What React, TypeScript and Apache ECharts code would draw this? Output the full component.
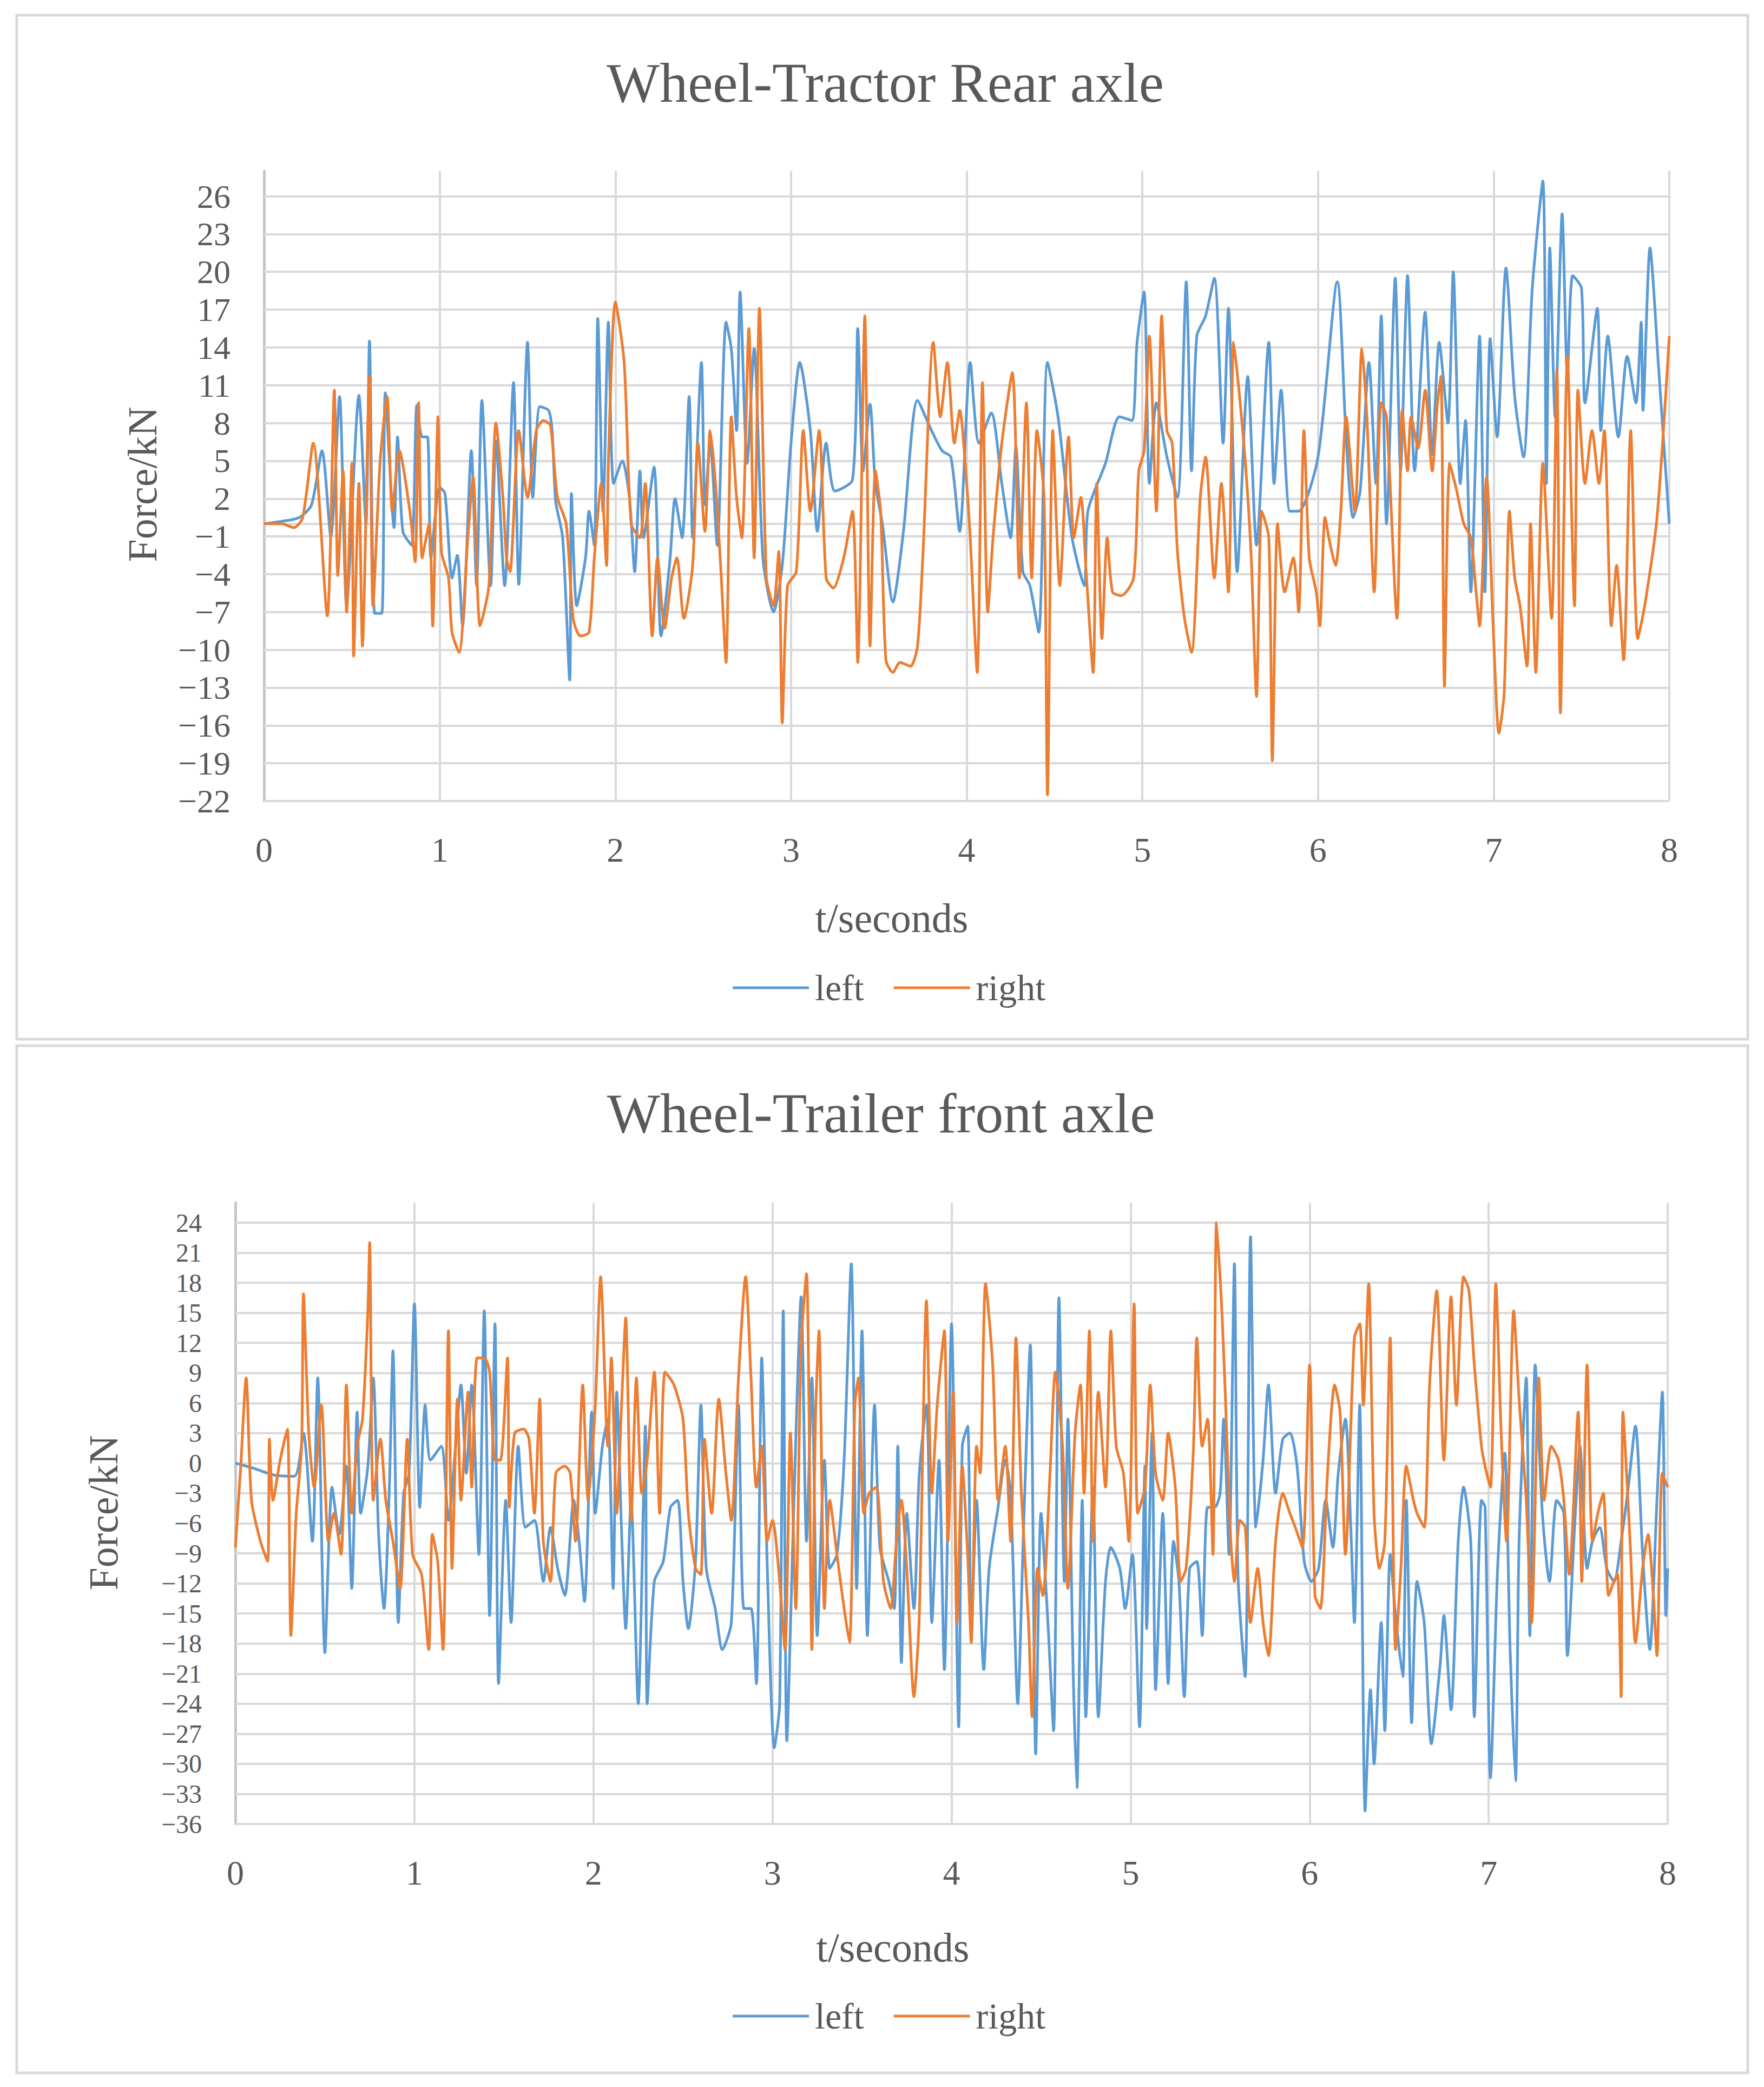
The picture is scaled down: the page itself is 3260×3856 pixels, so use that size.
import { useEffect, useRef } from 'react';
import * as echarts from 'echarts';

// Wheel-tractor rear axle, [t (s), force (kN)]
const topLeft: [number, number][] = [
  [0, 0], [0.1, 0.2], [0.2, 0.5], [0.27, 1.5], [0.33, 5.8], [0.38, -1], [0.43, 10.1], [0.47, -6.5], [0.54, 10.2], [0.58, 0],
  [0.6, 14.5], [0.63, -7.1], [0.67, -7.1], [0.69, 10.4], [0.74, -0.3], [0.76, 6.9], [0.79, -0.6], [0.84, -1.7], [0.87, 9.4], [0.9, 6.9],
  [0.93, 6.9], [0.95, -2.7], [1.0, 2.9], [1.03, 2.4], [1.07, -4.3], [1.1, -2.5], [1.13, -8.1], [1.18, 5.8], [1.21, -4.9], [1.24, 9.8],
  [1.29, -4.9], [1.32, 6.6], [1.37, -4.9], [1.42, 11.2], [1.45, -4.8], [1.5, 14.4], [1.53, 2.1], [1.57, 9.3], [1.62, 9.0], [1.64, 7.4],
  [1.66, 1.8], [1.7, -1.1], [1.74, -12.4], [1.75, 2.4], [1.78, -6.5], [1.83, -2.7], [1.85, 1.0], [1.88, -1.7], [1.9, 16.3], [1.93, 1.0],
  [1.96, 16], [1.99, 3.2], [2.04, 5.0], [2.08, 2.1], [2.11, -3.8], [2.14, 4.2], [2.16, -1.1], [2.22, 4.5], [2.26, -8.9], [2.31, -3],
  [2.34, 2.0], [2.38, -1.1], [2.42, 10.1], [2.44, -1.1], [2.49, 12.8], [2.51, 1.5], [2.54, 6.4], [2.58, -1.7], [2.63, 16], [2.66, 13.9],
  [2.69, 7.4], [2.71, 18.4], [2.75, 4.8], [2.79, 13.9], [2.84, -2.7], [2.9, -7], [2.95, -3.3], [3.0, 6.4], [3.05, 12.8], [3.11, 7.4],
  [3.15, -0.6], [3.2, 6.4], [3.25, 2.6], [3.35, 3.5], [3.38, 15.5], [3.41, 4.2], [3.45, 9.5], [3.48, 3.2], [3.52, 0], [3.58, -6.2],
  [3.64, -0.6], [3.72, 9.8], [3.8, 7.4], [3.86, 5.8], [3.91, 5.3], [3.96, -0.6], [4.02, 12.8], [4.07, 6.4], [4.14, 8.8], [4.2, 3.2],
  [4.25, -1.1], [4.28, 6.1], [4.32, -3.8], [4.36, -4.9], [4.41, -8.6], [4.46, 12.8], [4.52, 8.5], [4.6, -1.1], [4.67, -4.9], [4.69, 1.0],
  [4.79, 4.8], [4.87, 8.5], [4.94, 8.2], [4.97, 14.4], [5.01, 18.4], [5.04, 3.2], [5.08, 9.6], [5.14, 5.3], [5.2, 2.1], [5.25, 19.2],
  [5.28, 4.2], [5.31, 14.9], [5.36, 16.5], [5.41, 19.5], [5.46, 6.4], [5.49, 17.1], [5.54, -3.8], [5.6, 11.7], [5.65, -1.7], [5.72, 14.4],
  [5.75, 3.2], [5.79, 10.6], [5.84, 1.0], [5.89, 1.0], [6.0, 5.3], [6.11, 19.2], [6.16, 6.9], [6.2, 0.5], [6.24, 2.6], [6.29, 12.8],
  [6.33, 3.2], [6.36, 16.5], [6.39, 0], [6.44, 19.5], [6.47, 4.2], [6.51, 19.7], [6.55, 4.2], [6.61, 16.8], [6.65, 5.5], [6.69, 14.4],
  [6.74, 8], [6.77, 20], [6.81, 3.2], [6.84, 8.2], [6.87, -5.4], [6.92, 14.9], [6.95, -5.4], [6.98, 14.7], [7.02, 6.9], [7.07, 20.3],
  [7.12, 10.1], [7.17, 5.3], [7.22, 18.7], [7.28, 27.2], [7.3, 3.2], [7.32, 21.9], [7.35, 8.5], [7.39, 24.6], [7.42, 11.7], [7.45, 19.7],
  [7.5, 18.7], [7.52, 9.6], [7.59, 17.1], [7.61, 7.4], [7.65, 14.9], [7.71, 6.9], [7.76, 13.3], [7.81, 9.6], [7.84, 16], [7.85, 9.0],
  [7.89, 21.9], [7.94, 12.2], [8.0, 0],
];

const topRight: [number, number][] = [
  [0, 0], [0.1, 0], [0.17, -0.3], [0.22, 0.5], [0.28, 6.4], [0.36, -7.3], [0.4, 10.6], [0.42, -4.1], [0.45, 4.2], [0.47, -7],
  [0.5, 4.8], [0.51, -10.5], [0.54, 3.2], [0.56, -9.7], [0.6, 11.7], [0.62, -6.5], [0.66, 4.8], [0.7, 10.1], [0.73, 1], [0.77, 5.8],
  [0.83, 1], [0.86, -3], [0.88, 9.6], [0.9, -2.7], [0.94, 0], [0.96, -8.1], [0.98, 3.7], [0.99, 8.5], [1.01, -2.2], [1.05, -4.3],
  [1.07, -8.6], [1.11, -10.2], [1.16, -1.1], [1.19, 3.7], [1.23, -8.1], [1.28, -4.9], [1.32, 8], [1.36, 2.1], [1.38, -2.7], [1.4, -3.8],
  [1.45, 7.4], [1.5, 2.1], [1.55, 7.4], [1.59, 8.2], [1.63, 7.8], [1.67, 2.1], [1.72, 0], [1.76, -7.5], [1.8, -8.9], [1.85, -8.6],
  [1.88, -2.7], [1.92, 3.2], [1.95, -3.3], [1.96, 4.8], [2.0, 17.6], [2.05, 12.8], [2.09, 0], [2.14, -1.1], [2.17, 3.2], [2.21, -8.9],
  [2.24, -2.7], [2.28, -8.3], [2.32, -4.3], [2.35, -2.7], [2.39, -7.5], [2.44, -3.3], [2.47, 6.4], [2.51, -0.6], [2.54, 7.4], [2.57, 3.2],
  [2.6, -3.5], [2.63, -11], [2.66, 8.5], [2.69, 2.1], [2.72, -1.1], [2.76, 15.5], [2.79, -2.7], [2.82, 17.1], [2.86, -4.3], [2.9, -6.5],
  [2.93, -2.2], [2.95, -15.8], [2.98, -4.9], [3.03, -3.8], [3.07, 7.4], [3.11, 1], [3.16, 7.4], [3.2, -4.3], [3.24, -5.1], [3.3, -2.7],
  [3.35, 1], [3.38, -11], [3.42, 16.5], [3.45, -9.7], [3.48, 4.2], [3.51, 1], [3.54, -10.8], [3.58, -11.8], [3.62, -11], [3.68, -11.3],
  [3.72, -9.7], [3.75, -2.7], [3.81, 14.4], [3.85, 8.5], [3.89, 12.8], [3.93, 6.4], [3.96, 9.0], [4.0, 3.2], [4.02, -1.1], [4.06, -11.8],
  [4.09, 11.2], [4.12, -7], [4.15, -1.1], [4.2, 6.4], [4.26, 12], [4.3, -4.3], [4.34, 9.6], [4.37, -4.3], [4.4, 7.4], [4.44, 2.1],
  [4.46, -21.5], [4.49, 7.4], [4.53, -4.9], [4.58, 6.9], [4.61, -1.1], [4.65, 2.1], [4.68, -3.8], [4.72, -11.8], [4.74, 3.2], [4.77, -9.1],
  [4.8, -1.1], [4.83, -5.4], [4.88, -5.7], [4.95, -4.3], [4.98, 4.2], [5.01, 5.8], [5.04, 14.9], [5.08, 1], [5.11, 16.5], [5.14, 7.4],
  [5.17, 6.4], [5.2, -2.2], [5.24, -7.5], [5.28, -10.2], [5.33, 2.1], [5.36, 5.3], [5.41, -4.3], [5.45, 3.2], [5.49, -5.4], [5.52, 14.4],
  [5.55, 10.6], [5.59, 4.2], [5.62, -2.7], [5.65, -13.7], [5.68, 1], [5.72, -1.1], [5.74, -18.8], [5.77, 0], [5.81, -5.4], [5.86, -2.7],
  [5.89, -7], [5.92, 7.4], [5.95, -2.7], [5.99, -5.4], [6.01, -8.1], [6.04, 0.5], [6.07, -1.7], [6.1, -3.3], [6.13, 1], [6.16, 8.5],
  [6.21, 1], [6.25, 13.9], [6.28, 8], [6.32, -5.4], [6.36, 9.6], [6.39, 8.5], [6.45, -7.5], [6.48, 9.0], [6.51, 4.2], [6.53, 8.5],
  [6.57, 6], [6.61, 10.6], [6.65, 4.2], [6.68, 9.6], [6.7, 11.7], [6.72, -12.9], [6.75, 4.8], [6.79, 2.6], [6.83, 0], [6.87, -1.1],
  [6.9, -5.4], [6.92, -8.1], [6.96, 3.7], [7.0, -9.1], [7.03, -16.6], [7.06, -13.4], [7.09, 1], [7.12, -4.3], [7.15, -6.5], [7.19, -11.3],
  [7.21, 0], [7.24, -11.8], [7.28, 4.8], [7.33, -7.5], [7.36, 12.2], [7.38, -15], [7.42, 13.3], [7.46, -6.5], [7.48, 10.6], [7.52, 3.2],
  [7.56, 7.4], [7.6, 3.2], [7.63, 7.4], [7.67, -8.1], [7.7, -3.3], [7.74, -10.8], [7.78, 7.4], [7.82, -9.1], [7.86, -6.5], [7.93, 0.5],
  [8.0, 14.9],
];

// Wheel-trailer front axle
const botLeft: [number, number][] = [
  [0, 0], [0.1, -0.5], [0.22, -1.2], [0.33, -1.3], [0.38, 3], [0.43, -7.8], [0.46, 8.5], [0.5, -18.9], [0.54, -2.4], [0.58, -7.1],
  [0.62, -0.3], [0.65, -12.5], [0.68, 5.1], [0.7, -5], [0.74, -0.3], [0.77, 8.5], [0.8, -7.1], [0.83, -14.5], [0.86, -2.4], [0.88, 11.2],
  [0.91, -15.9], [0.94, -3], [0.97, -1], [1.0, 15.9], [1.03, -4.4], [1.06, 5.8], [1.09, 0.3], [1.15, 1.7], [1.19, -5.7], [1.23, 1.7],
  [1.26, 7.8], [1.29, -1], [1.32, 7.8], [1.36, -9.1], [1.39, 15.2], [1.42, -15.2], [1.45, 13.9], [1.47, -22], [1.51, -3.7], [1.54, -15.9],
  [1.58, 1.7], [1.62, -6.4], [1.67, -5.7], [1.72, -11.8], [1.76, -6.4], [1.8, -10.5], [1.84, -13.2], [1.89, -3.7], [1.92, -7.8], [1.95, -13.8],
  [1.99, 5.1], [2.01, -5], [2.05, 1.7], [2.08, 4.4], [2.11, -12.5], [2.13, 7.1], [2.16, -8.4], [2.18, -16.5], [2.21, -3.7], [2.25, -24],
  [2.29, 3.7], [2.3, -24], [2.34, -11.8], [2.39, -9.8], [2.43, -4.4], [2.47, -3.7], [2.5, -11.8], [2.53, -16.5], [2.57, -9.8], [2.6, 5.8],
  [2.63, -10.5], [2.68, -14.5], [2.72, -18.6], [2.77, -15.9], [2.81, 5.8], [2.84, -14.5], [2.88, -14.5], [2.91, -22], [2.94, 10.5], [2.97, -9.8],
  [3.01, -28.4], [3.04, -24], [3.06, 15.2], [3.08, -27.7], [3.12, -3.7], [3.16, 16.6], [3.19, -7.8], [3.22, 8.5], [3.25, -17.2], [3.29, 0.3],
  [3.32, -10.5], [3.36, -9.1], [3.4, 0.3], [3.44, 19.9], [3.47, -12.5], [3.5, 13.2], [3.53, -17.2], [3.57, 5.8], [3.6, -8.4], [3.65, -11.8],
  [3.68, -14.5], [3.7, 1.7], [3.72, -19.9], [3.75, -5], [3.79, -14.5], [3.82, -1], [3.86, 5.8], [3.89, -15.9], [3.93, 0.3], [3.96, -20.6],
  [4.0, 13.9], [4.04, -26.3], [4.06, 1.7], [4.09, 3.7], [4.11, -17.2], [4.14, -3.7], [4.18, -20.6], [4.21, -10.5], [4.26, -4.4], [4.3, 0.3],
  [4.33, -3], [4.37, -24], [4.4, -7.8], [4.44, 11.8], [4.47, -29], [4.5, -5], [4.54, -16.5], [4.57, -26.7], [4.6, 16.5], [4.63, -11.8],
  [4.65, 4.4], [4.68, -21.3], [4.7, -32.4], [4.73, -3.7], [4.75, -25.3], [4.79, -2.4], [4.82, -25.3], [4.86, -11.8], [4.89, -8.4], [4.94, -10.5],
  [4.97, -14.5], [5.01, -9.1], [5.05, -26.3], [5.08, -0.3], [5.09, -16.5], [5.12, 3], [5.14, -22.6], [5.18, -5], [5.21, -22], [5.24, -7.8],
  [5.27, -11.8], [5.3, -23.3], [5.33, -10.5], [5.37, -9.8], [5.4, -17.2], [5.43, -4.4], [5.47, -4.4], [5.5, -3], [5.52, 4.4], [5.55, -9.1],
  [5.58, 19.9], [5.6, -11.1], [5.64, -21.3], [5.67, 22.6], [5.7, -6.4], [5.74, 0.3], [5.77, 7.8], [5.81, -3], [5.85, 2.4], [5.89, 3],
  [5.93, -0.3], [5.97, -9.8], [6.01, -11.8], [6.05, -10.5], [6.09, -3.7], [6.13, -8.4], [6.16, -1], [6.2, 4.4], [6.23, -6.4], [6.25, -15.9],
  [6.28, 5.8], [6.31, -34.7], [6.34, -22.6], [6.36, -30], [6.4, -15.9], [6.42, -26.7], [6.45, -9.1], [6.48, -15.2], [6.52, -21.3], [6.54, -3.7],
  [6.57, -25.9], [6.6, -11.8], [6.64, -15.9], [6.68, -28], [6.73, -19.9], [6.75, -15.2], [6.79, -24.6], [6.83, -7.8], [6.86, -2.4], [6.9, -7.8],
  [6.92, -25.3], [6.96, -3.7], [6.98, -4.4], [7.01, -31.4], [7.05, -10.5], [7.09, 1], [7.12, -18.6], [7.15, -31.7], [7.17, -7.8], [7.21, 8.5],
  [7.23, -17.2], [7.26, 9.8], [7.3, -5], [7.34, -11.8], [7.38, -3.7], [7.42, -5], [7.44, -19.2], [7.48, -6.4], [7.51, 1.7], [7.55, -10.5],
  [7.58, -7.8], [7.62, -6.4], [7.66, -10.5], [7.7, -11.8], [7.74, -7.8], [7.78, -2.4], [7.82, 3.7], [7.86, -9.1], [7.9, -18.6], [7.94, -3.7],
  [7.97, 7.1], [7.99, -15.2], [8.0, -10.5],
];

const botRight: [number, number][] = [
  [0, -8.4], [0.03, -0.3], [0.06, 8.5], [0.09, -3.7], [0.14, -7.8], [0.18, -9.8], [0.19, 2.4], [0.21, -3.7], [0.25, 0.3], [0.29, 3.4],
  [0.31, -17.2], [0.34, -5], [0.37, 1.7], [0.38, 16.9], [0.41, 3], [0.44, -2.4], [0.48, 5.8], [0.52, -7.8], [0.55, -5], [0.59, -9.1],
  [0.62, 7.8], [0.65, -5], [0.68, 1.7], [0.71, 4.4], [0.74, 15.2], [0.75, 22], [0.77, -3.7], [0.81, 2.4], [0.84, -3.7], [0.88, -7.8],
  [0.92, -12.5], [0.96, 2.4], [0.99, -9.1], [1.04, -11.1], [1.08, -18.6], [1.1, -7.1], [1.13, -9.8], [1.16, -18.6], [1.19, 13.2], [1.21, -10.5],
  [1.24, 6.4], [1.26, -3.7], [1.3, 7.1], [1.32, -2.4], [1.35, 10.5], [1.39, 10.5], [1.42, 9.1], [1.45, 0.3], [1.48, 0.3], [1.52, 10.5],
  [1.53, -4.4], [1.56, 3], [1.61, 3.4], [1.64, 2.4], [1.67, -5], [1.7, 6.4], [1.72, -7.8], [1.76, -11.8], [1.79, -1], [1.84, -0.3],
  [1.87, -1], [1.9, -7.8], [1.94, 7.8], [1.97, -3.7], [2.01, 5.8], [2.04, 18.6], [2.08, 1.7], [2.1, 10.5], [2.13, -5], [2.16, 7.1],
  [2.18, 14.5], [2.21, -5.7], [2.24, 8.5], [2.27, -3], [2.3, 0.3], [2.34, 9.1], [2.37, -5], [2.4, 9.1], [2.45, 7.8], [2.5, 4.4],
  [2.53, -5], [2.57, -10.5], [2.6, -11.1], [2.62, 2.4], [2.66, -5], [2.7, 6.4], [2.74, -1], [2.77, -5.7], [2.81, 8.5], [2.85, 18.6],
  [2.88, 8.5], [2.91, -2.4], [2.94, 1.7], [2.97, -7.8], [3.0, -5.7], [3.04, -11.8], [3.07, -18.6], [3.1, 3], [3.13, -14.5], [3.16, 11.8],
  [3.19, 18.9], [3.22, -18.6], [3.24, 4.4], [3.26, 13.2], [3.29, -14.5], [3.32, -3.7], [3.36, -9.1], [3.4, -14.5], [3.43, -17.9], [3.46, 5.8],
  [3.48, 8.5], [3.51, -5], [3.54, -3], [3.58, -2.4], [3.62, -11.8], [3.66, -14.5], [3.69, -8.4], [3.72, -3.7], [3.75, -10.5], [3.79, -23.3],
  [3.82, -15.2], [3.86, 16.2], [3.89, -3], [3.92, 5.8], [3.96, 13.2], [3.98, -7.8], [4.01, 7.1], [4.03, -15.9], [4.06, -0.3], [4.09, -9.1],
  [4.11, -17.9], [4.14, 1.7], [4.16, -1], [4.19, 17.9], [4.23, 9.8], [4.26, -3.7], [4.3, 1.7], [4.33, -7.8], [4.36, 12.5], [4.39, -3],
  [4.43, -15.9], [4.45, -25.3], [4.48, -10.5], [4.51, -13.2], [4.55, -1], [4.58, 9.1], [4.62, 1.7], [4.65, -12.5], [4.69, 3], [4.72, 7.8],
  [4.74, -3], [4.77, 13.2], [4.79, -7.8], [4.82, 7.1], [4.86, -2.4], [4.89, 13.2], [4.92, 1.7], [4.96, -1], [4.99, -7.8], [5.02, 15.9],
  [5.04, -5], [5.08, -2.4], [5.11, 7.8], [5.14, -1], [5.18, -3.7], [5.21, 3], [5.25, -2.4], [5.28, -11.8], [5.31, -10.5], [5.35, 1],
  [5.37, 12.5], [5.4, 1.7], [5.43, 4.4], [5.46, -9.1], [5.48, 24], [5.51, 15.2], [5.53, 6.4], [5.56, -7.8], [5.58, -11.8], [5.61, -5.7],
  [5.64, -6.4], [5.67, -15.9], [5.71, -10.5], [5.74, -15.9], [5.77, -19.2], [5.81, -7.8], [5.85, -3], [5.89, -5], [5.92, -6.4], [5.96, -8.4],
  [6.0, 9.8], [6.03, -13.2], [6.06, -14.5], [6.1, -1], [6.14, 7.8], [6.17, 5.1], [6.2, -9.1], [6.25, 12.5], [6.28, 13.9], [6.3, 5.8],
  [6.33, 17.9], [6.36, -5], [6.39, -10.5], [6.42, -7.8], [6.45, 12.5], [6.48, -18.6], [6.51, -10.5], [6.54, -0.3], [6.58, -3.7], [6.6, -5],
  [6.64, -6.4], [6.67, 7.8], [6.71, 17.2], [6.75, 0.3], [6.79, 16.6], [6.82, 5.8], [6.86, 18.6], [6.89, 17.2], [6.92, 9.8], [6.96, 1.7],
  [6.98, -0.3], [7.01, -2.4], [7.04, 17.9], [7.07, 3], [7.1, -7.8], [7.14, 15.2], [7.17, 6.4], [7.21, -3.7], [7.24, -15.9], [7.28, 8.5],
  [7.31, -3.7], [7.35, 1.7], [7.39, 0.3], [7.42, -3.7], [7.45, -11.1], [7.5, 5.1], [7.52, -11.8], [7.55, 9.8], [7.58, -7.8], [7.61, -5],
  [7.64, -3], [7.67, -13.2], [7.7, -11.8], [7.72, -11.1], [7.74, -23.3], [7.75, 5.1], [7.79, -7.8], [7.82, -17.9], [7.86, -10.5], [7.89, -7.1],
  [7.92, -13.2], [7.94, -19.2], [7.97, -1], [8.0, -2.4],
];

const titles = ['Wheel-Tractor Rear axle', 'Wheel-Trailer front axle'];
const seriesNames = ['left', 'right'];
const yTicksTop = [-22, -19, -16, -13, -10, -7, -4, -1, 2, 5, 8, 11, 14, 17, 20, 23, 26];
const yTicksBottom = [-36, -33, -30, -27, -24, -21, -18, -15, -12, -9, -6, -3, 0, 3, 6, 9, 12, 15, 18, 21, 24];

const BLUE = '#5B9BD5';
const ORANGE = '#ED7D31';
const TEXT = '#595959';
const GRID = '#d9d9d9';
const FONT = '"Liberation Serif", "Times New Roman", serif';

const fmt = (v: number) => (v < 0 ? '\u2212' + Math.abs(v) : String(v));

function gridLines(values: number[]) {
  return {
    silent: true,
    symbol: ['none', 'none'],
    z: 1,
    label: { show: false },
    lineStyle: { color: GRID, width: 4, type: 'solid' },
    emphasis: { disabled: true },
    data: values.map((v) => ({ yAxis: v })),
  };
}

function axisPair(idx: number, min: number, max: number, ticks: number[], ySize: number) {
  const shown = new Set(ticks);
  const x = {
    type: 'value',
    gridIndex: idx,
    min: 0,
    max: 8,
    interval: 1,
    axisLine: { show: false, onZero: false },
    axisTick: { show: false },
    axisLabel: { color: TEXT, fontSize: 64, fontFamily: FONT, margin: 58 },
    splitLine: { show: true, lineStyle: { color: GRID, width: 4 } },
  };
  const y = {
    type: 'value',
    gridIndex: idx,
    min,
    max,
    interval: 1,
    axisLine: { show: true, onZero: false, lineStyle: { color: '#c6c6c6', width: 5 } },
    axisTick: { show: false },
    splitLine: { show: false },
    axisLabel: {
      color: TEXT,
      fontSize: ySize,
      fontFamily: FONT,
      margin: 62,
      formatter: (v: number) => (shown.has(Math.round(v)) ? fmt(Math.round(v)) : ''),
    },
  };
  return { x, y };
}

function lineSeries(name: string, data: [number, number][], axis: number, color: string, mark?: object) {
  return {
    name,
    type: 'line',
    xAxisIndex: axis,
    yAxisIndex: axis,
    data,
    showSymbol: false,
    smooth: 0.25,
    color,
    lineStyle: { color, width: 5 },
    itemStyle: { color },
    emphasis: { disabled: true },
    ...(mark ? { markLine: mark } : {}),
  };
}

function legendAt(top: number) {
  return {
    top,
    left: 1349,
    data: seriesNames,
    icon: 'rect',
    itemWidth: 141,
    itemHeight: 5,
    itemGap: 55,
    selectedMode: false,
    textStyle: { color: TEXT, fontSize: 68, fontFamily: FONT, padding: [0, 0, 0, 6] },
  };
}

function textEl(text: string, x: number, y: number, size: number, rotation = 0) {
  return {
    type: 'text',
    x,
    y,
    rotation,
    silent: true,
    style: {
      text,
      fill: TEXT,
      fontSize: size,
      fontFamily: FONT,
      align: 'center',
      verticalAlign: 'middle',
    },
  };
}

export default function App() {
  const ref = useRef<HTMLDivElement>(null);

  useEffect(() => {
    if (!ref.current) return;
    const chart = echarts.init(ref.current, undefined, { renderer: 'svg' });

    const top = axisPair(0, -22, 28, yTicksTop, 62);
    // tighter tick spacing on the lower chart: smaller labels so they do not collide
    const bot = axisPair(1, -36, 26, yTicksBottom, 48);

    chart.setOption({
      animation: false,
      backgroundColor: '#ffffff',
      grid: [
        { left: 488, top: 316, width: 2597, height: 1164 },
        { left: 435, top: 2222, width: 2647, height: 1148 },
      ],
      xAxis: [top.x, bot.x],
      yAxis: [top.y, bot.y],
      legend: [legendAt(1786), legendAt(3686)],
      series: [
        lineSeries(seriesNames[0], topLeft, 0, BLUE, gridLines([...yTicksTop, 0])),
        lineSeries(seriesNames[1], topRight, 0, ORANGE),
        lineSeries(seriesNames[0], botLeft, 1, BLUE, gridLines(yTicksBottom)),
        lineSeries(seriesNames[1], botRight, 1, ORANGE),
      ],
      graphic: [
        {
          type: 'rect',
          silent: true,
          z: -10,
          shape: { x: 31, y: 28, width: 3199, height: 1892 },
          style: { fill: 'none', stroke: GRID, lineWidth: 5 },
        },
        {
          type: 'rect',
          silent: true,
          z: -10,
          shape: { x: 31, y: 1932, width: 3199, height: 1898 },
          style: { fill: 'none', stroke: GRID, lineWidth: 5 },
        },
        textEl(titles[0], 1636, 152, 104),
        textEl(titles[1], 1628, 2056, 104),
        textEl('t/seconds', 1648, 1696, 76),
        textEl('t/seconds', 1650, 3598, 76),
        textEl('Force/kN', 263, 895, 76, Math.PI / 2),
        textEl('Force/kN', 191, 2795, 76, Math.PI / 2),
      ],
    });

    return () => {
      chart.dispose();
    };
  }, []);

  return (
    <div
      ref={ref}
      style={{ position: 'absolute', left: 0, top: 0, width: 3260, height: 3856, background: '#fff' }}
    />
  );
}
